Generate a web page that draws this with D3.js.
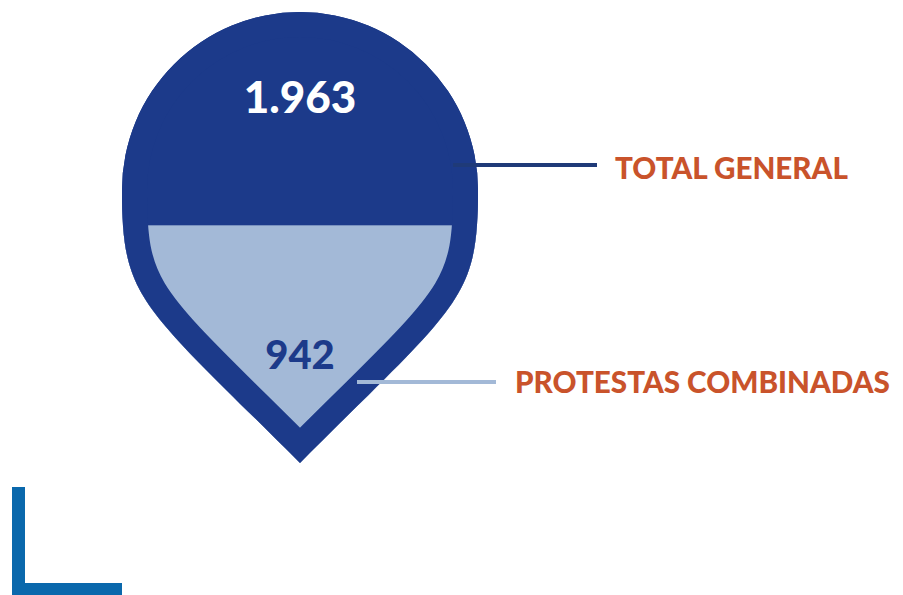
<!DOCTYPE html>
<html>
<head>
<meta charset="utf-8">
<script src="https://cdn.jsdelivr.net/npm/d3@7"></script>
<style>
  html, body { margin: 0; padding: 0; background: #ffffff; }
  svg { display: block; }
</style>
</head>
<body>
<div id="chart"></div>
<script>
// ---- data ----
const categories = ["TOTAL GENERAL", "PROTESTAS COMBINADAS"];
const values = [1963, 942];

// ---- setup ----
const W = 903, H = 595;
const colors = { dark: "#1c3a8a", light: "#a3b9d7", label: "#c9532b", lineDark: "#1f3a78", corner: "#0a68ac" };

const svg = d3.select("#chart").append("svg")
  .attr("width", W).attr("height", H);

const esFormat = d3.formatLocale({ decimal: ",", thousands: ".", grouping: [3], currency: ["", ""] }).format(",");

// drop geometry
const cx = 300, cy = 190, r = 178, tipY = 463, k = 110, m = 160, border = 25;

function dropPath() {
  const p = d3.path();
  p.moveTo(cx - r, cy);
  p.arc(cx, cy, r, Math.PI, 0, false);
  p.bezierCurveTo(cx + r, cy + k, cx + m, tipY - m, cx, tipY);
  p.bezierCurveTo(cx - m, tipY - m, cx - r, cy + k, cx - r, cy);
  p.closePath();
  return p.toString();
}
const dPath = dropPath();

const innerTip = tipY - border * Math.SQRT2;
const y = d3.scaleLinear().domain([0, values[0]]).range([innerTip, 6]);

const defs = svg.append("defs");
defs.append("clipPath").attr("id", "dropClip")
  .append("path").attr("d", dPath);

// outer drop
svg.append("path").attr("d", dPath).attr("fill", colors.dark);

// partial fill
const g = svg.append("g").attr("clip-path", "url(#dropClip)");
const level = y(values[1]);
g.append("rect")
  .attr("x", cx - r).attr("y", level)
  .attr("width", 2 * r).attr("height", tipY - level)
  .attr("fill", colors.light);
g.append("path").attr("d", dPath)
  .attr("fill", "none").attr("stroke", colors.dark)
  .attr("stroke-width", border * 2).attr("stroke-linejoin", "miter")
  .attr("stroke-miterlimit", 10);

// values
svg.append("text")
  .attr("x", cx).attr("y", 113)
  .attr("text-anchor", "middle")
  .attr("font-family", "Lato, sans-serif").attr("font-weight", 900)
  .attr("font-size", 44).attr("fill", "#ffffff")
  .text(esFormat(values[0]));

svg.append("text")
  .attr("x", cx).attr("y", 369)
  .attr("text-anchor", "middle")
  .attr("font-family", "Lato, sans-serif").attr("font-weight", 900)
  .attr("font-size", 40).attr("fill", colors.dark)
  .text(esFormat(values[1]));

// leader lines
svg.append("line")
  .attr("x1", 453).attr("x2", 597).attr("y1", 165).attr("y2", 165)
  .attr("stroke", colors.lineDark).attr("stroke-width", 4);
svg.append("line")
  .attr("x1", 357).attr("x2", 496).attr("y1", 382).attr("y2", 382)
  .attr("stroke", colors.light).attr("stroke-width", 4);

// labels, fitted to the width they take in the reference
function fitLabel(text, x, yPos, targetW, base) {
  const t = svg.append("text")
    .attr("x", x).attr("y", yPos)
    .attr("font-family", "Lato, sans-serif").attr("font-weight", 900)
    .attr("font-size", base).attr("fill", colors.label)
    .text(text);
  const w = t.node().getComputedTextLength();
  if (w > 0) t.attr("font-size", base * targetW / w);
  return t;
}
fitLabel(categories[0], 615, 179, 233, 30);
fitLabel(categories[1], 515, 393, 375, 30);

// corner decoration
svg.append("path")
  .attr("d", "M12,487 H25 V583 H122 V595 H12 Z")
  .attr("fill", colors.corner);
</script>
</body>
</html>
